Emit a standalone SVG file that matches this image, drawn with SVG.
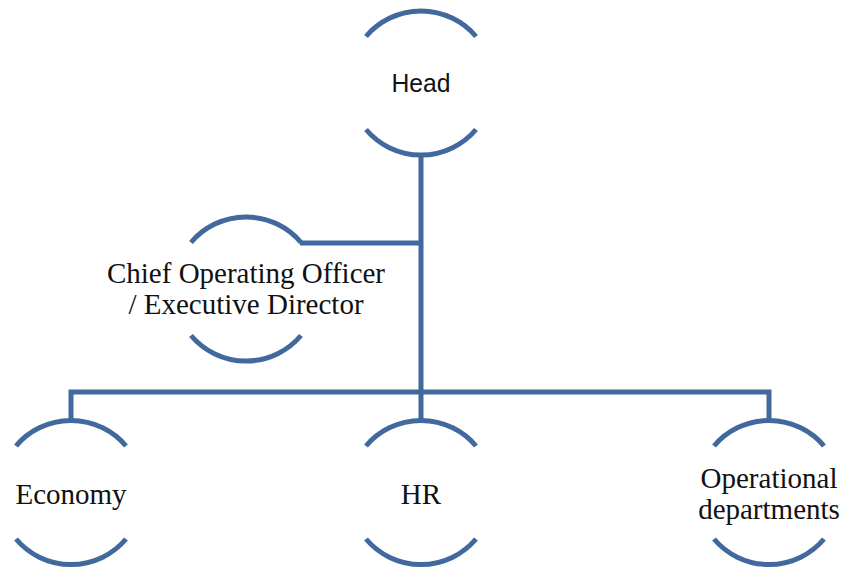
<svg xmlns="http://www.w3.org/2000/svg" width="844" height="570" viewBox="0 0 844 570">
<style>
.arc{fill:none;stroke:#41699d;stroke-width:5;stroke-linecap:butt}
.con{fill:none;stroke:#41699d;stroke-width:5}
.sans{font-family:"Liberation Sans",Arial,sans-serif;font-size:25px;fill:#111;text-anchor:middle}
.serif{font-family:"Liberation Serif","Times New Roman",serif;font-size:29px;fill:#111;text-anchor:middle}
</style>
<rect width="844" height="570" fill="#fff"/>
<g id="connectors">
<path class="con" d="M421,155 V392"/>
<path class="con" d="M71,421 V392 H769 V421"/>
<path class="con" d="M421,392 V421"/>
<path class="con" d="M300,243 H421"/>
</g>
<g id="head">
<path class="arc" d="M366,36.5 A72,72 0 0 1 476,36.5"/>
<path class="arc" d="M366,129.5 A72,72 0 0 0 476,129.5"/>
<text class="sans" x="421" y="92" textLength="59" lengthAdjust="spacingAndGlyphs">Head</text>
</g>
<g id="coo">
<path class="arc" d="M191,242.5 A72,72 0 0 1 301,242.5"/>
<path class="arc" d="M191,335.5 A72,72 0 0 0 301,335.5"/>
<text class="serif" x="246" y="283">Chief Operating Officer</text>
<text class="serif" x="246" y="314">/ Executive Director</text>
</g>
<g id="economy">
<path class="arc" d="M16,446 A72,72 0 0 1 126,446"/>
<path class="arc" d="M16,539 A72,72 0 0 0 126,539"/>
<text class="serif" x="71" y="504">Economy</text>
</g>
<g id="hr">
<path class="arc" d="M366,446 A72,72 0 0 1 476,446"/>
<path class="arc" d="M366,539 A72,72 0 0 0 476,539"/>
<text class="serif" x="421" y="504">HR</text>
</g>
<g id="operational">
<path class="arc" d="M714,446 A72,72 0 0 1 824,446"/>
<path class="arc" d="M714,539 A72,72 0 0 0 824,539"/>
<text class="serif" x="769" y="488">Operational</text>
<text class="serif" x="769" y="519">departments</text>
</g>
</svg>
